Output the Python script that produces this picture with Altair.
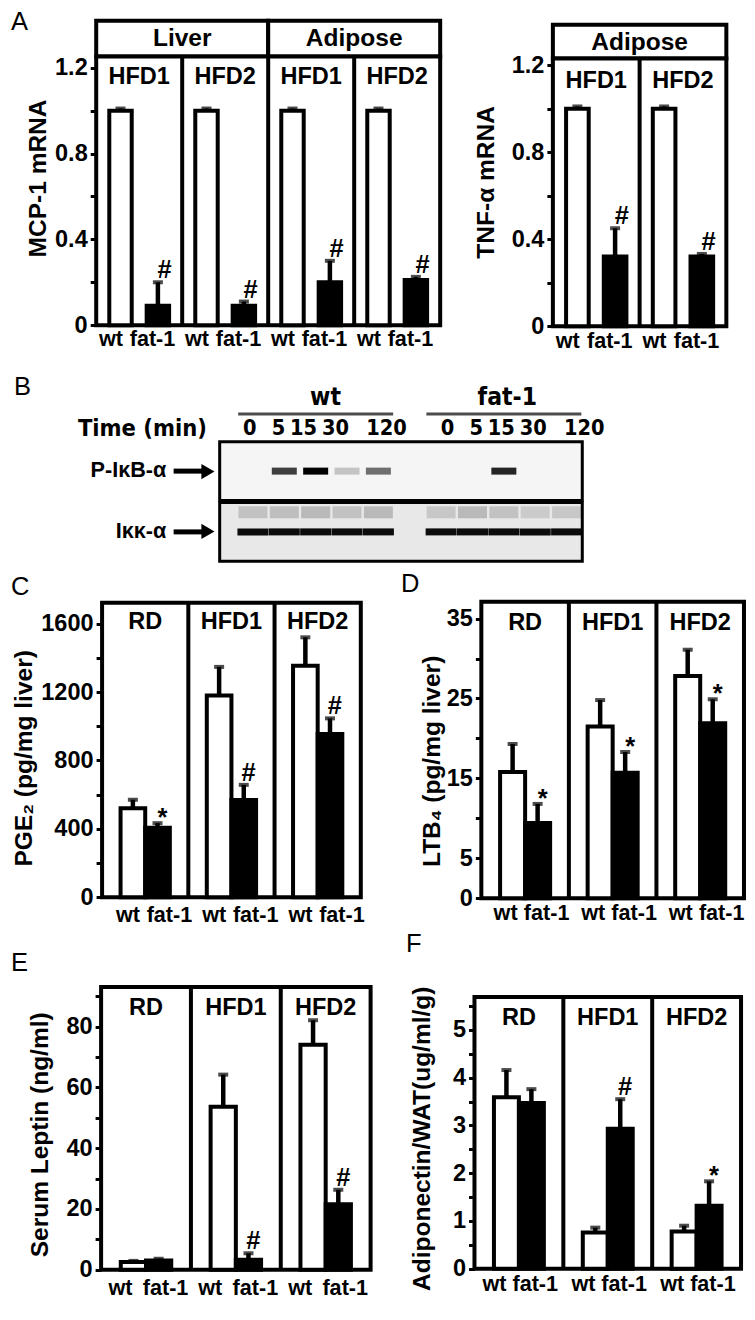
import altair as alt
import pandas as pd

FONT = "Liberation Sans, Arial, Helvetica, sans-serif"
NARROW = "Liberation Sans Narrow, DejaVu Sans Condensed, Liberation Sans, sans-serif"
GENO = ["wt", "fat-1"]

# ---------------- Panel A (left): MCP-1 mRNA ----------------
a1_tissue = ["Liver", "Liver", "Adipose", "Adipose"]
a1_diet = ["HFD1", "HFD2", "HFD1", "HFD2"]
a1_wt = [1.0, 1.0, 1.0, 1.0]
a1_wt_err = [0.01, 0.01, 0.01, 0.01]
a1_fat = [0.09, 0.09, 0.20, 0.21]
a1_fat_err = [0.11, 0.02, 0.10, 0.015]
a1_sig = ["#", "#", "#", "#"]

# ---------------- Panel A (right): TNF-alpha mRNA ----------------
a2_tissue = ["Adipose", "Adipose"]
a2_diet = ["HFD1", "HFD2"]
a2_wt = [1.0, 1.0]
a2_wt_err = [0.01, 0.01]
a2_fat = [0.32, 0.32]
a2_fat_err = [0.13, 0.012]
a2_sig = ["#", "#"]

# ---------------- Panels C-F ----------------
DIETS = ["RD", "HFD1", "HFD2"]
c_wt = [520, 1179, 1353]
c_wt_err = [50, 168, 167]
c_fat = [406, 568, 954]
c_fat_err = [27, 89, 92]
c_sig = ["*", "#", "#"]

d_wt = [15.8, 21.5, 27.8]
d_wt_err = [3.5, 3.3, 3.3]
d_fat = [9.4, 15.7, 21.9]
d_fat_err = [2.4, 2.6, 3.0]
d_sig = ["*", "*", "*"]

e_wt = [2.5, 53.6, 74.0]
e_wt_err = [0.4, 10.6, 8.1]
e_fat = [3.0, 3.3, 21.5]
e_fat_err = [0.6, 2.1, 4.8]
e_sig = ["", "#", "#"]

f_wt = [3.59, 0.76, 0.78]
f_wt_err = [0.57, 0.10, 0.12]
f_fat = [3.47, 2.93, 1.32]
f_fat_err = [0.29, 0.62, 0.51]
f_sig = ["", "#", "*"]

# ---------------- Panel B: western blot ----------------
TIMES = ["0", "5", "15", "30", "120"]
ROWS = ["P-I\u03baB-\u03b1", "I\u03ba\u03ba-\u03b1"]
p_ikb = [0.0, 0.75, 1.0, 0.2, 0.55, 0.0, 0.0, 0.85, 0.0, 0.0]
ikk_main = [0.95, 0.95, 0.95, 0.95, 0.95, 0.95, 0.95, 0.95, 0.95, 0.95]
ikk_upper = [0.16, 0.18, 0.2, 0.16, 0.2, 0.14, 0.2, 0.16, 0.12, 0.14]

# ---------------- layout helpers (page layout of the figure) ----------------
SX, SY = 0.98, 0.988
CW, CH = 739, 1303
# horizontal nudges of the time labels above the blot lanes (label placement only)
TIME_DX = {"0": -3, "5": -7, "15": -15, "30": -16, "120": 2}


def L(x):
    return round((x - 2) * SX, 2)


def T(y):
    return round((y - 1) * SY, 2)


def fs(s):
    return round(s * SX, 1)


def one():
    return alt.Chart(pd.DataFrame({"k": [0]}))


def make_df(group_ids, labels, wt, wt_err, fat, fat_err, sig):
    rows = []
    for i, g in enumerate(group_ids):
        rows.append(dict(group=g, label=labels[i], geno="wt", mean=wt[i], err=wt_err[i], sig=""))
        rows.append(dict(group=g, label=labels[i], geno="fat-1", mean=fat[i], err=fat_err[i], sig=sig[i]))
    return pd.DataFrame(rows)


def text_at(txt, x, y, size, align="left", baseline="top", weight="normal", font=FONT):
    return alt.Chart(pd.DataFrame({"t": [txt]})).mark_text(
        font=font, fontSize=size, fontWeight=weight, align=align, baseline=baseline,
        color="black").encode(text="t:N", x=alt.value(x), y=alt.value(y))


def bar_panel(df, groups, labels, box, ymax, yvals, label_expr, ytitle, tc,
              pi, po, glab_dy, xlab_y, wt_dx, fat_dx, letter=None, header=None):
    x0, y0, x1, y1 = box
    xs = alt.Scale(domain=groups, range=[L(x0), L(x1)], paddingInner=0, paddingOuter=0)
    xos = alt.Scale(domain=GENO, paddingInner=pi, paddingOuter=po)
    ys = alt.Scale(domain=[0, ymax], range=[T(y1), T(y0)], nice=False, zero=True)
    yaxis = alt.Axis(orient="left", offset=-L(x0), values=yvals, labelExpr=label_expr,
                     labelOverlap=False, title=ytitle,
                     titleX=round(L(tc[0]) - L(x0), 2), titleY=T(tc[1]),
                     titleBaseline="middle", titleAngle=270, titleAlign="center",
                     grid=False, domain=False, ticks=True, tickSize=6, tickWidth=3,
                     tickColor="black", labelFont=FONT, labelFontSize=fs(24),
                     labelFontWeight="bold", labelColor="black", labelPadding=3,
                     titleFont=FONT, titleFontSize=fs(25), titleFontWeight="bold",
                     titleColor="black")
    X = alt.X("group:N", scale=xs, axis=None)
    XO = alt.XOffset("geno:N", scale=xos)
    Yn = alt.Y("mean:Q", scale=ys, axis=None)
    Yt = alt.Y("top:Q", scale=ys, axis=None)
    base = alt.Chart(df).transform_calculate(top="datum.mean + datum.err")
    gdf = pd.DataFrame({"group": groups, "label": labels})
    lay = []
    if header:
        hdf = pd.DataFrame({"tissue": header[0]})
        hs = alt.Scale(domain=header[0], range=[L(x0), L(x1)], paddingInner=0, paddingOuter=0)
        lay.append(alt.Chart(hdf).mark_rect(fill="white", stroke="black", strokeWidth=4).encode(
            x=alt.X("tissue:N", scale=hs, axis=None), y=alt.value(T(header[1])), y2=alt.value(T(y0))))
        lay.append(alt.Chart(hdf).mark_text(font=FONT, fontSize=fs(25), fontWeight="bold",
                                            baseline="middle", color="black").encode(
            x=alt.X("tissue:N", scale=hs, axis=None), y=alt.value(T(header[2])), text="tissue:N"))
    # panel frame
    lay.append(one().mark_rect(fill="white", stroke="black", strokeWidth=4).encode(
        x=alt.value(L(x0)), x2=alt.value(L(x1)), y=alt.value(T(y0)), y2=alt.value(T(y1))))
    lay.append(alt.Chart(gdf).transform_filter(f"datum.group != '{groups[0]}'").mark_rule(
        color="black", strokeWidth=4).encode(
        x=alt.X("group:N", scale=xs, axis=None, bandPosition=0),
        y=alt.value(T(y0)), y2=alt.value(T(y1))))
    lay.append(base.transform_filter("datum.geno == 'wt'").mark_bar(
        fill="white", stroke="black", strokeWidth=4).encode(
        x=X, xOffset=XO, y=alt.Y("mean:Q", scale=ys, axis=yaxis)))
    lay.append(base.transform_filter("datum.geno == 'fat-1'").mark_bar(
        fill="black", stroke="black", strokeWidth=4).encode(x=X, xOffset=XO, y=Yn))
    lay.append(base.mark_rule(color="black", strokeWidth=4.5).encode(
        x=X, xOffset=XO, y=Yn, y2=alt.Y2("top:Q")))
    lay.append(base.mark_tick(orient="horizontal", color="black", thickness=4, size=10).encode(
        x=X, xOffset=XO, y=Yt))
    lay.append(base.transform_filter("datum.sig == '#'").mark_text(
        font=FONT, fontSize=fs(26), fontWeight="bold", baseline="alphabetic", dy=-4,
        color="black").encode(x=X, xOffset=XO, y=Yt, text="sig:N"))
    lay.append(base.transform_filter("datum.sig == '*'").mark_text(
        font=FONT, fontSize=fs(26), fontWeight="bold", baseline="alphabetic", dy=3,
        color="black").encode(x=X, xOffset=XO, y=Yt, text="sig:N"))
    lay.append(alt.Chart(gdf).mark_text(font=FONT, fontSize=fs(24), fontWeight="bold",
                                        baseline="middle", color="black").encode(
        x=X, y=alt.value(T(y0 + glab_dy)), text="label:N"))
    lay.append(base.transform_filter("datum.geno == 'wt'").mark_text(
        font=FONT, fontSize=fs(22), fontWeight="bold", baseline="middle", dx=wt_dx,
        color="black").encode(x=X, xOffset=XO, y=alt.value(T(xlab_y)), text="geno:N"))
    lay.append(base.transform_filter("datum.geno == 'fat-1'").mark_text(
        font=FONT, fontSize=fs(22), fontWeight="bold", baseline="middle", dx=fat_dx,
        color="black").encode(x=X, xOffset=XO, y=alt.value(T(xlab_y)), text="geno:N"))
    if letter:
        lay.append(text_at(letter[0], L(letter[1]), T(letter[2]), fs(26)))
    return lay


A_EXPR = "datum.value == 0 ? '0' : (round(datum.value * 10) % 4 == 0 ? format(datum.value, '.1f') : '')"
A_VALS = [0, 0.2, 0.4, 0.6, 0.8, 1.0, 1.2]

layers = []

# ----- Panel A -----
a1_ids = [f"{t}|{d}" for t, d in zip(a1_tissue, a1_diet)]
layers += bar_panel(make_df(a1_ids, a1_diet, a1_wt, a1_wt_err, a1_fat, a1_fat_err, a1_sig),
                    a1_ids, a1_diet, (92, 50, 443, 322), 1.253, A_VALS, A_EXPR, "MCP-1 mRNA",
                    (33, 173), 0.4, 0.35, 21, 337, -3, -12, letter=("A", 5, 3),
                    header=(["Liver", "Adipose"], 14, 32))
a2_ids = [f"{t}|{d}" for t, d in zip(a2_tissue, a2_diet)]
layers += bar_panel(make_df(a2_ids, a2_diet, a2_wt, a2_wt_err, a2_fat, a2_fat_err, a2_sig),
                    a2_ids, a2_diet, (558, 52, 735, 323), 1.231, A_VALS, A_EXPR, "TNF-\u03b1 mRNA",
                    (490, 177), 0.4, 0.35, 23, 339, -3, -12,
                    header=(["Adipose"], 18, 36))

# ----- Panels C-F -----
layers += bar_panel(make_df(DIETS, DIETS, c_wt, c_wt_err, c_fat, c_fat_err, c_sig),
                    DIETS, DIETS, (98, 603, 362, 901), 1722, list(range(0, 1601, 200)),
                    "datum.value % 400 == 0 ? format(datum.value, 'd') : ''",
                    "PGE\u2082 (pg/mg liver)", (19, 760), 0.0, 0.75, 19, 920, 0, 7,
                    letter=("C", 5, 575))
layers += bar_panel(make_df(DIETS, DIETS, d_wt, d_wt_err, d_fat, d_fat_err, d_sig),
                    DIETS, DIETS, (485, 602, 753, 902), 37.1, list(range(0, 36, 5)),
                    "datum.value == 0 || datum.value % 10 == 5 ? format(datum.value, 'd') : ''",
                    "LTB\u2084  (pg/mg liver)", (435, 763), 0.0, 0.75, 21, 918, -2, 4,
                    letter=("D", 403, 572))
layers += bar_panel(make_df(DIETS, DIETS, e_wt, e_wt_err, e_fat, e_fat_err, e_sig),
                    DIETS, DIETS, (97, 992, 372, 1278), 93.0, list(range(0, 91, 10)),
                    "datum.value % 20 == 0 ? format(datum.value, 'd') : ''",
                    "Serum Leptin (ng/ml)", (35, 1141), 0.0, 0.78, 21, 1298, -8, 2,
                    letter=("E", 5, 955))
layers += bar_panel(make_df(DIETS, DIETS, f_wt, f_wt_err, f_fat, f_fat_err, f_sig),
                    DIETS, DIETS, (478, 1002, 750, 1277), 5.69, [i * 0.5 for i in range(12)],
                    "datum.value % 1 == 0 ? format(datum.value, 'd') : ''",
                    "Adiponectin/WAT(ug/ml/g)", (425, 1145), 0.0, 0.78, 21, 1293, -7, -1,
                    letter=("F", 408, 936))

# ----- Panel B (blot) -----
lane_ids = [f"{g}|{t}" for g in GENO for t in TIMES]
lane_domain = lane_ids[:5] + ["gap"] + lane_ids[5:]
lanes_df = pd.DataFrame({"lane": lane_ids,
                         "geno": [g for g in GENO for _ in TIMES],
                         "time": TIMES * 2})
band_rows = []
for i, lane in enumerate(lane_ids):
    band_rows.append(dict(lane=lane, row=ROWS[0], sub="main", intensity=p_ikb[i]))
    band_rows.append(dict(lane=lane, row=ROWS[1], sub="main", intensity=ikk_main[i]))
    band_rows.append(dict(lane=lane, row=ROWS[1], sub="upper", intensity=ikk_upper[i]))
bands_df = pd.DataFrame(band_rows)
rows_df = pd.DataFrame({"row": ROWS})

xl = alt.Scale(domain=lane_domain, range=[L(218), L(588)], paddingInner=0, paddingOuter=0.28, align=1)
ysb = alt.Scale(domain=ROWS, range=[T(440), T(561)], paddingInner=0.033, paddingOuter=0)
yob = alt.Scale(domain=["upper", "main", "lower"], paddingInner=0, paddingOuter=0)
blot_axis = alt.Axis(orient="left", offset=-L(218), title=None, domain=False, ticks=False,
                     labelFont=FONT, labelFontSize=fs(22), labelFontWeight="bold",
                     labelColor="black", labelPadding=round((218 - 163) * SX, 1))
LX = alt.X("lane:N", scale=xl, axis=None)
YR = alt.Y("row:N", scale=ysb, axis=None)
YO = alt.YOffset("sub:N", scale=yob)
OP = alt.Opacity("intensity:Q", scale=None)

layers.append(alt.Chart(rows_df).transform_filter(f"datum.row == '{ROWS[0]}'").mark_rect(
    fill="#f5f5f5", stroke="black", strokeWidth=3).encode(
    y=alt.Y("row:N", scale=ysb, axis=blot_axis), x=alt.value(L(218)), x2=alt.value(L(588))))
layers.append(alt.Chart(rows_df).transform_filter(f"datum.row == '{ROWS[1]}'").mark_rect(
    fill="#e8e8e8", stroke="black", strokeWidth=3).encode(
    y=YR, x=alt.value(L(218)), x2=alt.value(L(588))))
# P-IkB-alpha bands
layers.append(alt.Chart(bands_df).transform_filter(f"datum.row == '{ROWS[0]}'").mark_tick(
    orient="horizontal", color="black", thickness=7, size=25).encode(
    x=LX, y=YR, yOffset=YO, opacity=OP))
# Ikk-alpha main bands
layers.append(alt.Chart(bands_df).transform_filter(
    f"datum.row == '{ROWS[1]}' && datum.sub == 'main'").mark_tick(
    orient="horizontal", color="black", thickness=7, size=31).encode(
    x=LX, y=YR, yOffset=YO, opacity=OP))
# Ikk-alpha faint upper smears
layers.append(alt.Chart(bands_df).transform_filter(
    f"datum.row == '{ROWS[1]}' && datum.sub == 'upper'").mark_tick(
    orient="horizontal", color="black", thickness=12, size=29).encode(
    x=LX, y=YR, yOffset=YO, opacity=OP))
# arrows next to the row labels
layers.append(alt.Chart(rows_df).mark_rule(color="black", strokeWidth=5).encode(
    x=alt.value(L(171)), x2=alt.value(L(202)), y=YR))
layers.append(alt.Chart(rows_df).mark_point(shape="triangle-right", filled=True, color="black",
                                            size=230, opacity=1).encode(
    x=alt.value(L(206)), y=YR))
for t in TIMES:
    layers.append(alt.Chart(lanes_df).transform_filter(f"datum.time == '{t}'").mark_text(
        font=NARROW, fontSize=fs(22), fontWeight="bold", baseline="middle", dx=TIME_DX[t],
        color="black").encode(x=LX, y=alt.value(T(427)), text="time:N"))
hdr_df = pd.DataFrame({"geno": GENO, "lane": ["wt|15", "fat-1|15"]})
layers.append(alt.Chart(hdr_df).transform_filter("datum.geno == 'wt'").mark_text(
    font=NARROW, fontSize=fs(25), fontWeight="bold", baseline="middle", dx=7,
    color="black").encode(x=LX, y=alt.value(T(396)), text="geno:N"))
layers.append(alt.Chart(hdr_df).transform_filter("datum.geno == 'fat-1'").mark_text(
    font=NARROW, fontSize=fs(25), fontWeight="bold", baseline="middle", dx=-9,
    color="black").encode(x=LX, y=alt.value(T(396)), text="geno:N"))
layers.append(alt.Chart(hdr_df).mark_tick(orient="horizontal", color="black", thickness=3,
                                          size=round(158 * SX)).encode(
    x=LX, y=alt.value(T(412))))
layers.append(text_at("Time (min)", L(205), T(427), fs(24), align="right", baseline="middle",
                      weight="bold", font=NARROW))
layers.append(text_at("B", L(8), T(372), fs(26)))

chart = alt.layer(*layers).resolve_scale(
    x="independent", y="independent", xOffset="independent", yOffset="independent"
).properties(
    width=CW, height=CH, autosize=alt.AutoSizeParams(type="none"), padding=0
).configure_view(strokeWidth=0)

chart.save("out.html", embed_options={"renderer": "svg", "actions": False})
